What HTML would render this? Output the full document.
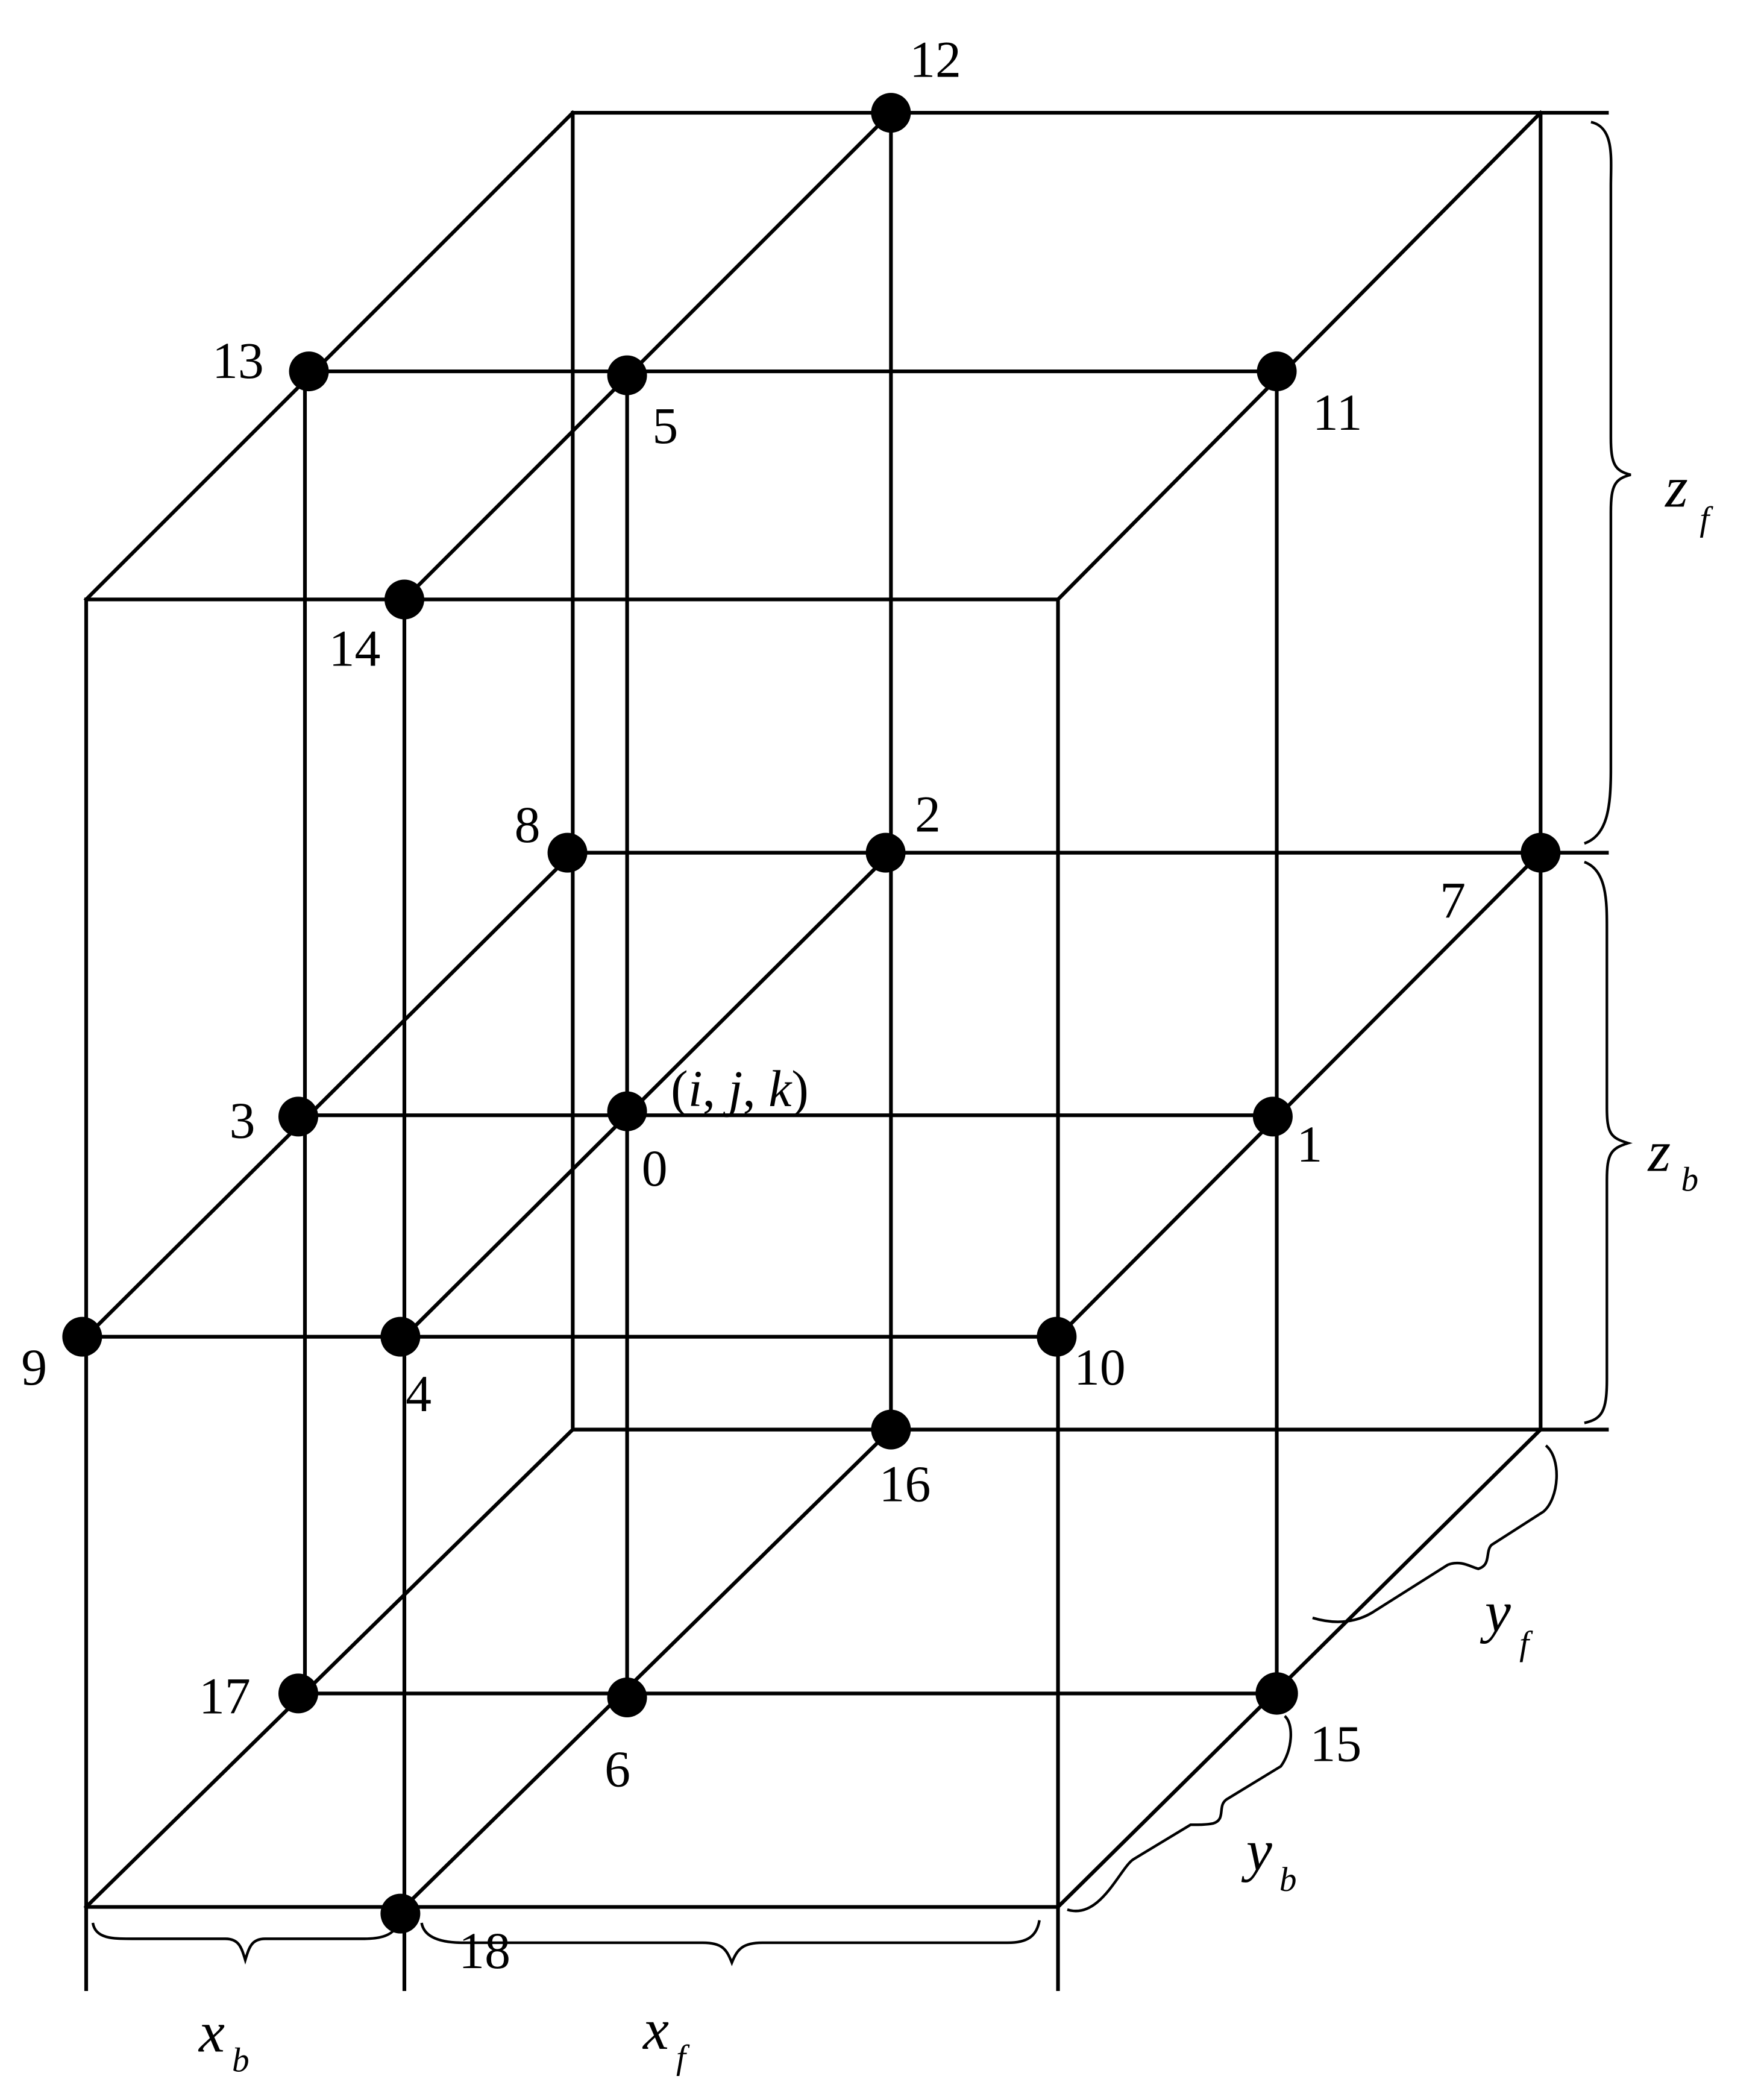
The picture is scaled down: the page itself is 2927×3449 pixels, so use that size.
<!DOCTYPE html>
<html><head><meta charset="utf-8"><style>html,body{margin:0;padding:0;background:#fff}svg{display:block}</style></head>
<body>
<svg width="2927" height="3449" viewBox="0 0 1330.5 1567.7" xmlns="http://www.w3.org/2000/svg">
<g stroke="#000" stroke-width="2.8" fill="none" stroke-linecap="square">
<path d="M432 85 H1212 M432 85 V1078 M1162 85 V1078 M432 1078 H1212"/>
<path d="M65 452 H798 V1438 H65 Z"/>
<path d="M65 452 L432 85 M798 452 L1162 85 M65 1438 L432 1078 M798 1438 L1162 1078"/>
<path d="M233 280 H963 M230 280 V1277 M963 280 V1277 M225 1277 H963"/>
<path d="M305 452 V1443 M672 85 V1078 M305 452 L672 85 M305 1438 L672 1078"/>
<path d="M432 643 H1212 M65 1008 H798 M65 1008 L432 643 M798 1008 L1162 643"/>
<path d="M225 841 H960 M473 283 V1280 M305 1008 L672 643"/>
<path d="M65 1438 V1500 M305 1443 V1500 M798 1438 V1500"/>
</g>
<g stroke="#000" stroke-width="2" fill="none">
<path d="M1200 92 C1218 96 1215 120 1215 140 V330 C1215 350 1218 355 1230 358 C1218 361 1215 366 1215 386 V580 C1215 610 1212 630 1195 636"/>
<path d="M1195 650 C1212 656 1212 680 1212 700 V835 C1212 855 1215 858 1228 862 C1215 866 1212 870 1212 890 V1040 C1212 1065 1208 1070 1195 1073"/>
<path d="M70 1450 C72 1462 85 1462 100 1462 H170 C180 1462 182 1468 185 1478 C188 1468 190 1462 200 1462 H275 C290 1462 298 1458 300 1450"/>
<path d="M318 1450 C320 1462 335 1465 350 1465 H530 C545 1465 548 1470 552 1480 C556 1470 560 1465 575 1465 H760 C775 1465 782 1460 784 1448"/>
<path d="M1166 1090 C1178 1100 1176 1130 1164 1140 L1125 1165 C1120 1170 1125 1180 1115 1183 C1110 1182 1102 1176 1092 1180 L1035 1216 C1025 1222 1010 1226 990 1220"/>
<path d="M969 1294 C976 1300 975 1320 966 1332 L925 1357 C918 1362 925 1372 915 1375 C910 1376 905 1376 898 1376 L855 1402 C845 1408 830 1448 805 1440"/>
</g>
<g fill="#000">
<circle cx="672" cy="85" r="15"/><circle cx="233" cy="280" r="15"/><circle cx="473" cy="283" r="15"/><circle cx="963" cy="280" r="15"/>
<circle cx="305" cy="452" r="15"/><circle cx="428" cy="643" r="15"/><circle cx="668" cy="643" r="15"/><circle cx="1162" cy="643" r="15"/>
<circle cx="225" cy="842" r="15"/><circle cx="473" cy="838" r="15"/><circle cx="960" cy="842" r="15"/>
<circle cx="62" cy="1008" r="15"/><circle cx="302" cy="1008" r="15"/><circle cx="797" cy="1008" r="15"/>
<circle cx="672" cy="1078" r="15"/><circle cx="225" cy="1277" r="15"/><circle cx="473" cy="1280" r="15"/><circle cx="963" cy="1277" r="16"/>
<circle cx="302" cy="1443" r="15"/>
</g>
<g font-family="Liberation Serif, serif" font-size="39" fill="#000">
<text x="686" y="58">12</text><text x="160" y="285">13</text><text x="492" y="334">5</text><text x="990" y="324">11</text>
<text x="248" y="502">14</text><text x="388" y="635">8</text><text x="690" y="627">2</text><text x="1086" y="692">7</text>
<text x="173" y="858">3</text><text x="484" y="894">0</text><text x="978" y="876">1</text>
<text x="16" y="1044">9</text><text x="306" y="1064">4</text><text x="810" y="1044">10</text>
<text x="663" y="1132">16</text><text x="150" y="1292">17</text><text x="456" y="1347">6</text><text x="988" y="1328">15</text>
<text x="346" y="1484">18</text>
<text x="506" y="834">(<tspan font-style="italic">i</tspan>, <tspan font-style="italic">j</tspan>, <tspan font-style="italic">k</tspan>)</text>
</g>
<g font-family="Liberation Serif, serif" font-style="italic" fill="#000">
<text x="1256" y="382" font-size="44">z</text><text x="1282" y="400" font-size="26">f</text>
<text x="1243" y="883" font-size="44">z</text><text x="1268" y="898" font-size="26">b</text>
<text x="150" y="1547" font-size="44">x</text><text x="175" y="1562" font-size="26">b</text>
<text x="485" y="1545" font-size="44">x</text><text x="510" y="1560" font-size="26">f</text>
<text x="1120" y="1230" font-size="44">y</text><text x="1146" y="1248" font-size="26">f</text>
<text x="940" y="1410" font-size="44">y</text><text x="965" y="1426" font-size="26">b</text>
</g>
</svg>
</body></html>
